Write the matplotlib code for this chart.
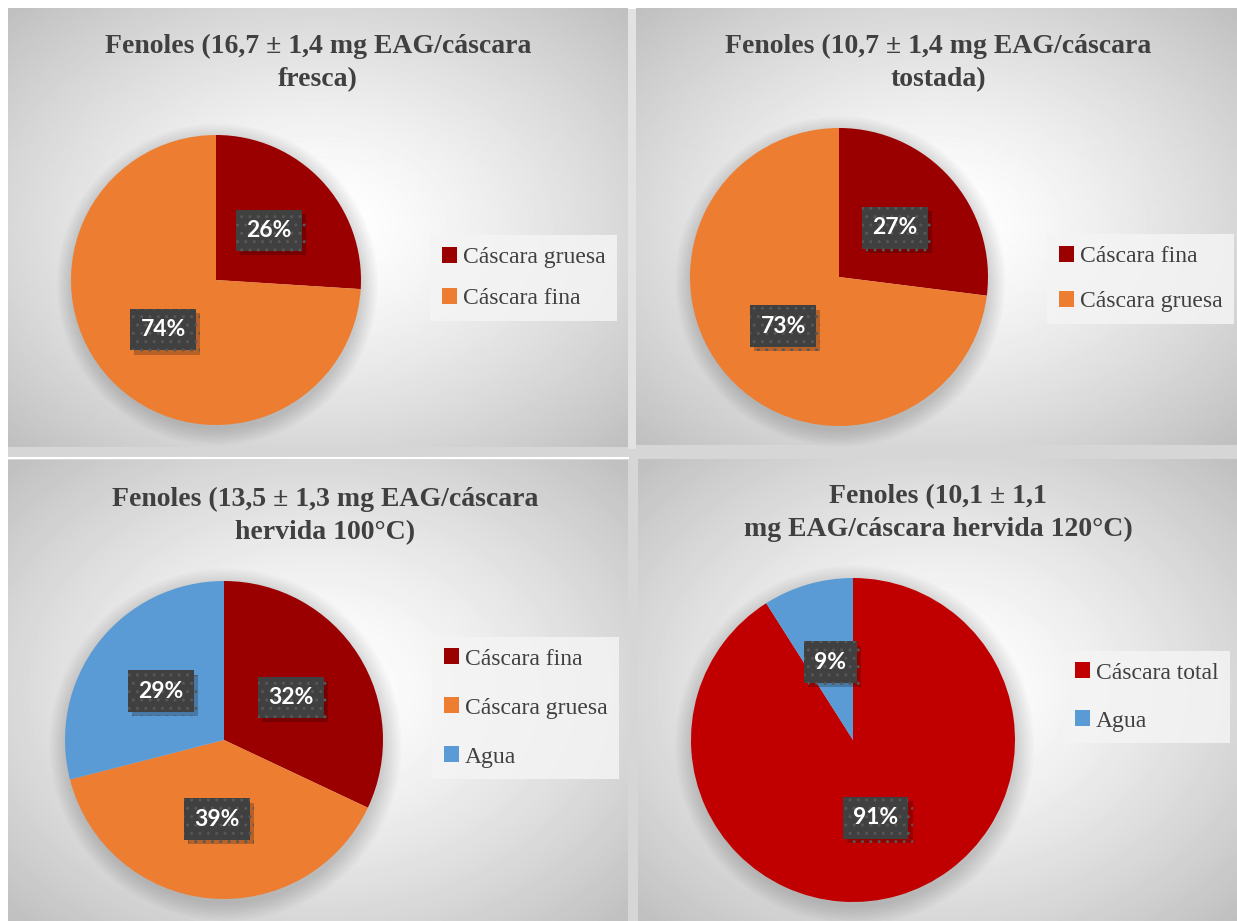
import matplotlib.pyplot as plt
import matplotlib.patheffects as pe
import numpy as np
from matplotlib.patches import Circle, Rectangle

# Phenol distribution per peel treatment (%)
titles = [
    "Fenoles (16,7 ± 1,4 mg EAG/cáscara\nfresca)",
    "Fenoles (10,7 ± 1,4 mg EAG/cáscara\ntostada)",
    "Fenoles (13,5 ± 1,3 mg EAG/cáscara\nhervida 100°C)",
    "Fenoles (10,1 ± 1,1\nmg EAG/cáscara hervida 120°C)",
]
labels_fresca = ["Cáscara gruesa", "Cáscara fina"]
values_fresca = [26, 74]
labels_tostada = ["Cáscara fina", "Cáscara gruesa"]
values_tostada = [27, 73]
labels_h100 = ["Cáscara fina", "Cáscara gruesa", "Agua"]
values_h100 = [32, 39, 29]
labels_h120 = ["Cáscara total", "Agua"]
values_h120 = [91, 9]

DARK_RED = "#9b0000"
ORANGE = "#ed7d31"
BLUE = "#5b9bd5"
RED = "#c00000"
colors = [
    [DARK_RED, ORANGE],
    [DARK_RED, ORANGE],
    [DARK_RED, ORANGE, BLUE],
    [RED, BLUE],
]
series = [
    (labels_fresca, values_fresca),
    (labels_tostada, values_tostada),
    (labels_h100, values_h100),
    (labels_h120, values_h120),
]

W, H = 1237, 921
fig = plt.figure(figsize=(W / 100, H / 100), dpi=100)
fig.patch.set_facecolor("white")

# background layer in pixel coordinates
bg = fig.add_axes([0, 0, 1, 1])
bg.axis("off")
bg.add_patch(Rectangle((8, 9), W - 8, H - 9, color="#d6d6d6", lw=0, zorder=0))
bg.add_patch(Rectangle((628, 9), 8, 440, color="#e2e2e2", lw=0, zorder=0.5))

# panel boxes: x0, x1, y0, y1
panels = [(8, 628, 9, 447), (636, W, 9, 445), (8, 628, 460, H), (638, W, 459, H)]
for x0, x1, y0, y1 in panels:
    w, h = x1 - x0, y1 - y0
    xx, yy = np.meshgrid(np.linspace(-1, 1, w), np.linspace(-1, 1, h))
    d = np.sqrt(xx ** 2 + yy ** 2) / np.sqrt(2)
    shade = 1 - 0.25 * np.clip((d - 0.05) / 0.95, 0, 1) ** 1.3
    bg.imshow(shade, cmap="gray", vmin=0, vmax=1, extent=(x0, x1, y1, y0),
              interpolation="bilinear", aspect="auto", zorder=1)
bg.plot([0, 628], [458, 458], color="white", lw=1.5, zorder=2)
bg.set_xlim(0, W)
bg.set_ylim(H, 0)

# pie centre and radius (px), title centre, legend anchor, legend row spacing
pies = [(216, 280, 145), (839, 277, 149), (224, 740, 159), (853, 740, 162)]
title_pos = [(318, 63), (938, 63), (325, 516), (938, 513)]
legend_pos = [(430, 278), (1047, 279), (432, 708), (1063, 697)]
spacing = [0.85, 1.02, 1.18, 1.14]

for i, (labels, values) in enumerate(series):
    cx, cy, r = pies[i]
    ax = fig.add_axes([(cx - r) / W, 1 - (cy + r) / H, 2 * r / W, 2 * r / H])

    # soft shadow around the pie
    for k in range(10):
        ax.add_patch(Circle((0.01, -0.03), 1 + 0.012 * k, color="black",
                            alpha=0.016, lw=0, zorder=0, clip_on=False))

    wedges, _, autotexts = ax.pie(
        values, colors=colors[i], startangle=90, counterclock=False,
        radius=1, autopct=lambda p: f"{p:.0f}%", pctdistance=0.5,
        wedgeprops=dict(linewidth=0),
    )
    ax.set_xlim(-1, 1)
    ax.set_ylim(-1, 1)
    ax.axis("off")

    for t in autotexts:
        t.set_fontsize(16.5)
        t.set_fontfamily("Lato")
        t.set_fontweight("bold")
        t.set_color("white")
        t.set_zorder(6)
        t.set_bbox(dict(boxstyle="square,pad=0.45", facecolor="#404040",
                        edgecolor="#575757", hatch="..", lw=0))
        t.get_bbox_patch().set_path_effects([
            pe.SimplePatchShadow(offset=(3, -3), shadow_rgbFace="black", alpha=0.22),
            pe.Normal(),
        ])

    tx, ty = title_pos[i]
    fig.text(tx / W, 1 - ty / H, titles[i], ha="center", va="center",
             fontsize=20, fontfamily="Liberation Serif", fontweight="bold",
             color="#404040", linespacing=1.45)

    lx, ly = legend_pos[i]
    fig.legend(
        wedges, labels, loc="center left", bbox_to_anchor=(lx / W, 1 - ly / H),
        prop=dict(family="Liberation Serif", size=17), labelcolor="#404040",
        frameon=True, fancybox=False, facecolor="#f4f4f4", edgecolor="none",
        framealpha=0.85, handlelength=0.65, handleheight=0.65,
        handletextpad=0.25, labelspacing=spacing[i], borderpad=0.5,
        borderaxespad=0,
    )

fig.savefig("out.png", dpi=100)
